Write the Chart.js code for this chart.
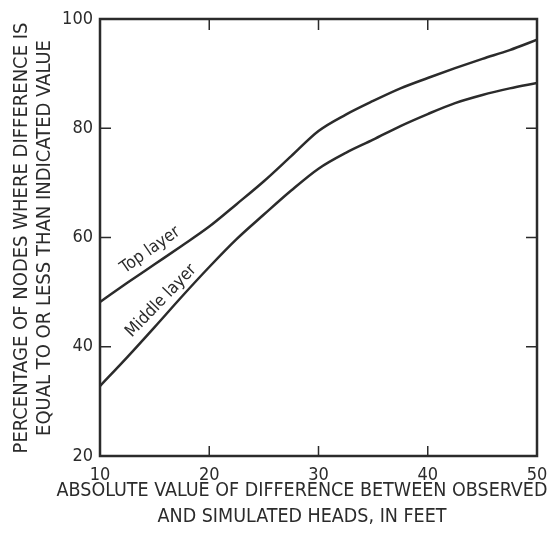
<!DOCTYPE html>
<html>
<head>
<meta charset="utf-8">
<script src="https://cdn.jsdelivr.net/npm/chart.js@4"></script>
<style>
  body { margin: 0; background: #fff; }
</style>
</head>
<body>
<canvas id="grafico" width="548" height="535"></canvas>
<script>
// valores
var diferencas = [10, 12.5, 15, 17.5, 20, 22.5, 25, 27.5, 30, 32.5, 35, 37.5, 40, 42.5, 45, 47.5, 50];
var camadaTopo = [48.2, 51.7, 55.1, 58.5, 62.0, 66.1, 70.3, 74.9, 79.5, 82.5, 85.0, 87.3, 89.2, 91.0, 92.7, 94.3, 96.2];
var camadaMeio = [32.8, 38.1, 43.6, 49.2, 54.6, 59.7, 64.2, 68.6, 72.6, 75.5, 77.9, 80.4, 82.6, 84.6, 86.1, 87.3, 88.3];
var ticksX = [10, 20, 30, 40, 50];
var ticksY = [20, 40, 60, 80, 100];
var tituloX = ['ABSOLUTE VALUE OF DIFFERENCE BETWEEN OBSERVED', 'AND SIMULATED HEADS, IN FEET'];
var tituloY = ['PERCENTAGE OF NODES WHERE DIFFERENCE IS', 'EQUAL TO OR LESS THAN INDICATED VALUE'];
var rotulos = [
    { texto: 'Top layer', x: 14.6, y: 57.7, angulo: -35 },
    { texto: 'Middle layer', x: 15.6, y: 48.4, angulo: -46 }
];

var fonte = "'DejaVu Sans Condensed', 'Liberation Sans Narrow', sans-serif";
var cor = '#2b2b2b';

function pontos(valores) {
    return diferencas.map((d, i) => ({ x: d, y: valores[i] }));
}

// moldura, tracinhos para dentro, titulos dos eixos e rotulos das curvas
var moldura = {
    id: 'moldura',
    afterDatasetsDraw(chart) {
        var ctx = chart.ctx;
        var a = chart.chartArea;
        var sx = chart.scales.x, sy = chart.scales.y;
        ctx.save();
        ctx.strokeStyle = cor;
        ctx.lineWidth = 2.5;
        ctx.strokeRect(a.left, a.top, a.right - a.left, a.bottom - a.top);
        ctx.lineWidth = 1.5;
        ticksX.slice(1, -1).forEach(function (v) {
            var px = sx.getPixelForValue(v);
            ctx.beginPath();
            ctx.moveTo(px, a.bottom); ctx.lineTo(px, a.bottom - 10);
            ctx.moveTo(px, a.top); ctx.lineTo(px, a.top + 11);
            ctx.stroke();
        });
        ticksY.slice(1, -1).forEach(function (v) {
            var py = sy.getPixelForValue(v);
            ctx.beginPath();
            ctx.moveTo(a.left, py); ctx.lineTo(a.left + 11, py);
            ctx.moveTo(a.right, py); ctx.lineTo(a.right - 11, py);
            ctx.stroke();
        });
        ctx.fillStyle = cor;
        ctx.textAlign = 'center';
        ctx.textBaseline = 'middle';

        ctx.font = '19.5px ' + fonte;
        ctx.fillText(tituloX[0], 302, 491);
        ctx.fillText(tituloX[1], 302, 517);

        ctx.font = '20px ' + fonte;
        ctx.save();
        ctx.translate(0, 238);
        ctx.rotate(-Math.PI / 2);
        ctx.fillText(tituloY[0], 0, 22);
        ctx.fillText(tituloY[1], 0, 45);
        ctx.restore();

        ctx.font = '17px ' + fonte;
        rotulos.forEach(function (r) {
            ctx.save();
            ctx.translate(sx.getPixelForValue(r.x), sy.getPixelForValue(r.y));
            ctx.rotate(r.angulo * Math.PI / 180);
            ctx.fillText(r.texto, 0, 0);
            ctx.restore();
        });
        ctx.restore();
    }
};

new Chart(document.getElementById('grafico').getContext('2d'), {
    type: 'line',
    data: {
        datasets: [
            { label: 'Top layer', data: pontos(camadaTopo) },
            { label: 'Middle layer', data: pontos(camadaMeio) }
        ]
    },
    options: {
        responsive: false,
        animation: false,
        devicePixelRatio: 1,
        layout: { padding: { left: 0, right: 11, top: 19, bottom: 0 } },
        elements: {
            line: { borderColor: cor, borderWidth: 2.5, tension: 0.4, cubicInterpolationMode: 'monotone', fill: false },
            point: { radius: 0 }
        },
        plugins: {
            legend: { display: false },
            tooltip: { enabled: false }
        },
        scales: {
            x: {
                type: 'linear',
                min: 10,
                max: 50,
                afterFit: function (s) { s.height = 79; s.paddingLeft = 0; s.paddingRight = 0; },
                afterBuildTicks: function (s) { s.ticks = ticksX.map(v => ({ value: v })); },
                grid: { display: false, drawTicks: false },
                border: { display: false },
                ticks: { color: cor, padding: 9, font: { family: fonte, size: 18 } },
                title: { display: false }
            },
            y: {
                min: 20,
                max: 100,
                afterFit: function (s) { s.width = 100; s.paddingTop = 0; s.paddingBottom = 0; },
                afterBuildTicks: function (s) { s.ticks = ticksY.map(v => ({ value: v })); },
                grid: { display: false, drawTicks: false },
                border: { display: false },
                ticks: { color: cor, padding: 7, font: { family: fonte, size: 18 } },
                title: { display: false }
            }
        }
    },
    plugins: [moldura]
});
</script>
</body>
</html>
